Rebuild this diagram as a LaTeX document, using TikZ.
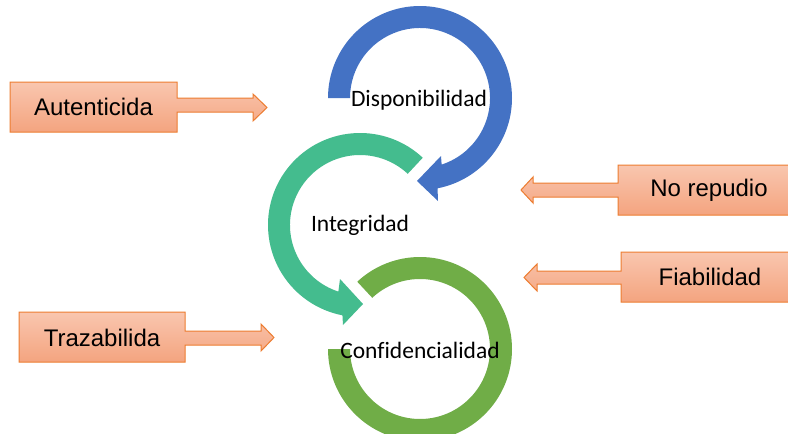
\documentclass[tikz,border=0pt]{standalone}
\usepackage{fontspec}
\setmainfont{Carlito}[Ligatures={NoCommon}]
\newfontfamily\arialf{Liberation Sans}
\usetikzlibrary{calc}
\definecolor{cblue}{HTML}{4472C4}
\definecolor{cteal}{HTML}{44BC8E}
\definecolor{cgreen}{HTML}{70AD47}
\definecolor{oborder}{HTML}{ED7D31}
\definecolor{otop}{HTML}{F9C6AF}
\definecolor{obot}{HTML}{F4A47F}
\tikzset{
  callout/.style={draw=oborder, line width=1pt, top color=otop, bottom color=obot},
  boxlabel/.style={font=\arialf\fontsize{24}{28}\selectfont, inner sep=0pt},
  ringlabel/.style={font=\fontsize{23.5}{27}\selectfont, inner sep=0pt},
}
\begin{document}
\begin{tikzpicture}[x=1pt,y=1pt]
\useasboundingbox (0,0) rectangle (788,-434);
\fill[white] (0,0) rectangle (788,-434);
\begin{scope}
\clip (0,0) rectangle (788,-434);
\coordinate (cB) at (420,-98);
\coordinate (cI) at (360,-225);
\coordinate (cC) at (420,-349);
% Integridad (teal) ring arrow
\fill[cteal] ($(cI)+(47:92pt)$) arc[start angle=47, end angle=259, radius=92pt]
  -- (343,-325) -- (363,-304) -- (340,-279)
  -- ($(cI)+(252:70pt)$) arc[start angle=252, end angle=47, radius=70pt] -- cycle;
% Confidencialidad (green) ring
\fill[cgreen] ($(cC)+(180:92pt)$) arc[start angle=180, end angle=493, radius=92pt]
  -- ($(cC)+(493:70pt)$) arc[start angle=493, end angle=180, radius=70pt] -- cycle;
% Disponibilidad (blue) ring arrow
\fill[cblue] ($(cB)+(180:92pt)$) arc[start angle=180, end angle=-79, radius=92pt]
  -- (438,-201) -- (417,-181) -- (441,-156)
  -- ($(cB)+(-72:70pt)$) arc[start angle=-72, end angle=180, radius=70pt] -- cycle;
% orange callouts
\path[callout] (10,-82) -- (177,-82) -- (177,-98) -- (253,-98) -- (253,-94) -- (267,-107.5)
  -- (253,-121) -- (253,-112) -- (177,-112) -- (177,-132) -- (10,-132) -- cycle;
\path[callout] (19,-312) -- (185,-312) -- (185,-331) -- (261,-331) -- (261,-324) -- (274,-337.5)
  -- (261,-351) -- (261,-345) -- (185,-345) -- (185,-362) -- (19,-362) -- cycle;
\path[callout] (800,-165) -- (618,-165) -- (618,-183) -- (533,-183) -- (533,-177) -- (521,-190)
  -- (533,-203) -- (533,-197) -- (618,-197) -- (618,-215) -- (800,-215) -- cycle;
\path[callout] (800,-252) -- (621,-252) -- (621,-271) -- (537,-271) -- (537,-264) -- (524,-277.5)
  -- (537,-291) -- (537,-284) -- (621,-284) -- (621,-302) -- (800,-302) -- cycle;
\end{scope}
% labels
\node[boxlabel] (aut) at (93.5,-107) {Autenticida};
\node[boxlabel] (tra) at (102,-338) {Trazabilida};
\node[boxlabel] (nor) at (709,-190) {No repudio};
\node[boxlabel] (fia) at (710,-277) {Fiabilidad};
\node[ringlabel] (dis) at (419,-100) {Disponibilidad};
\node[ringlabel] (int) at (360,-225) {Integridad};
\node[ringlabel] (con) at (420,-350) {Confidencialidad};
\end{tikzpicture}
\end{document}
